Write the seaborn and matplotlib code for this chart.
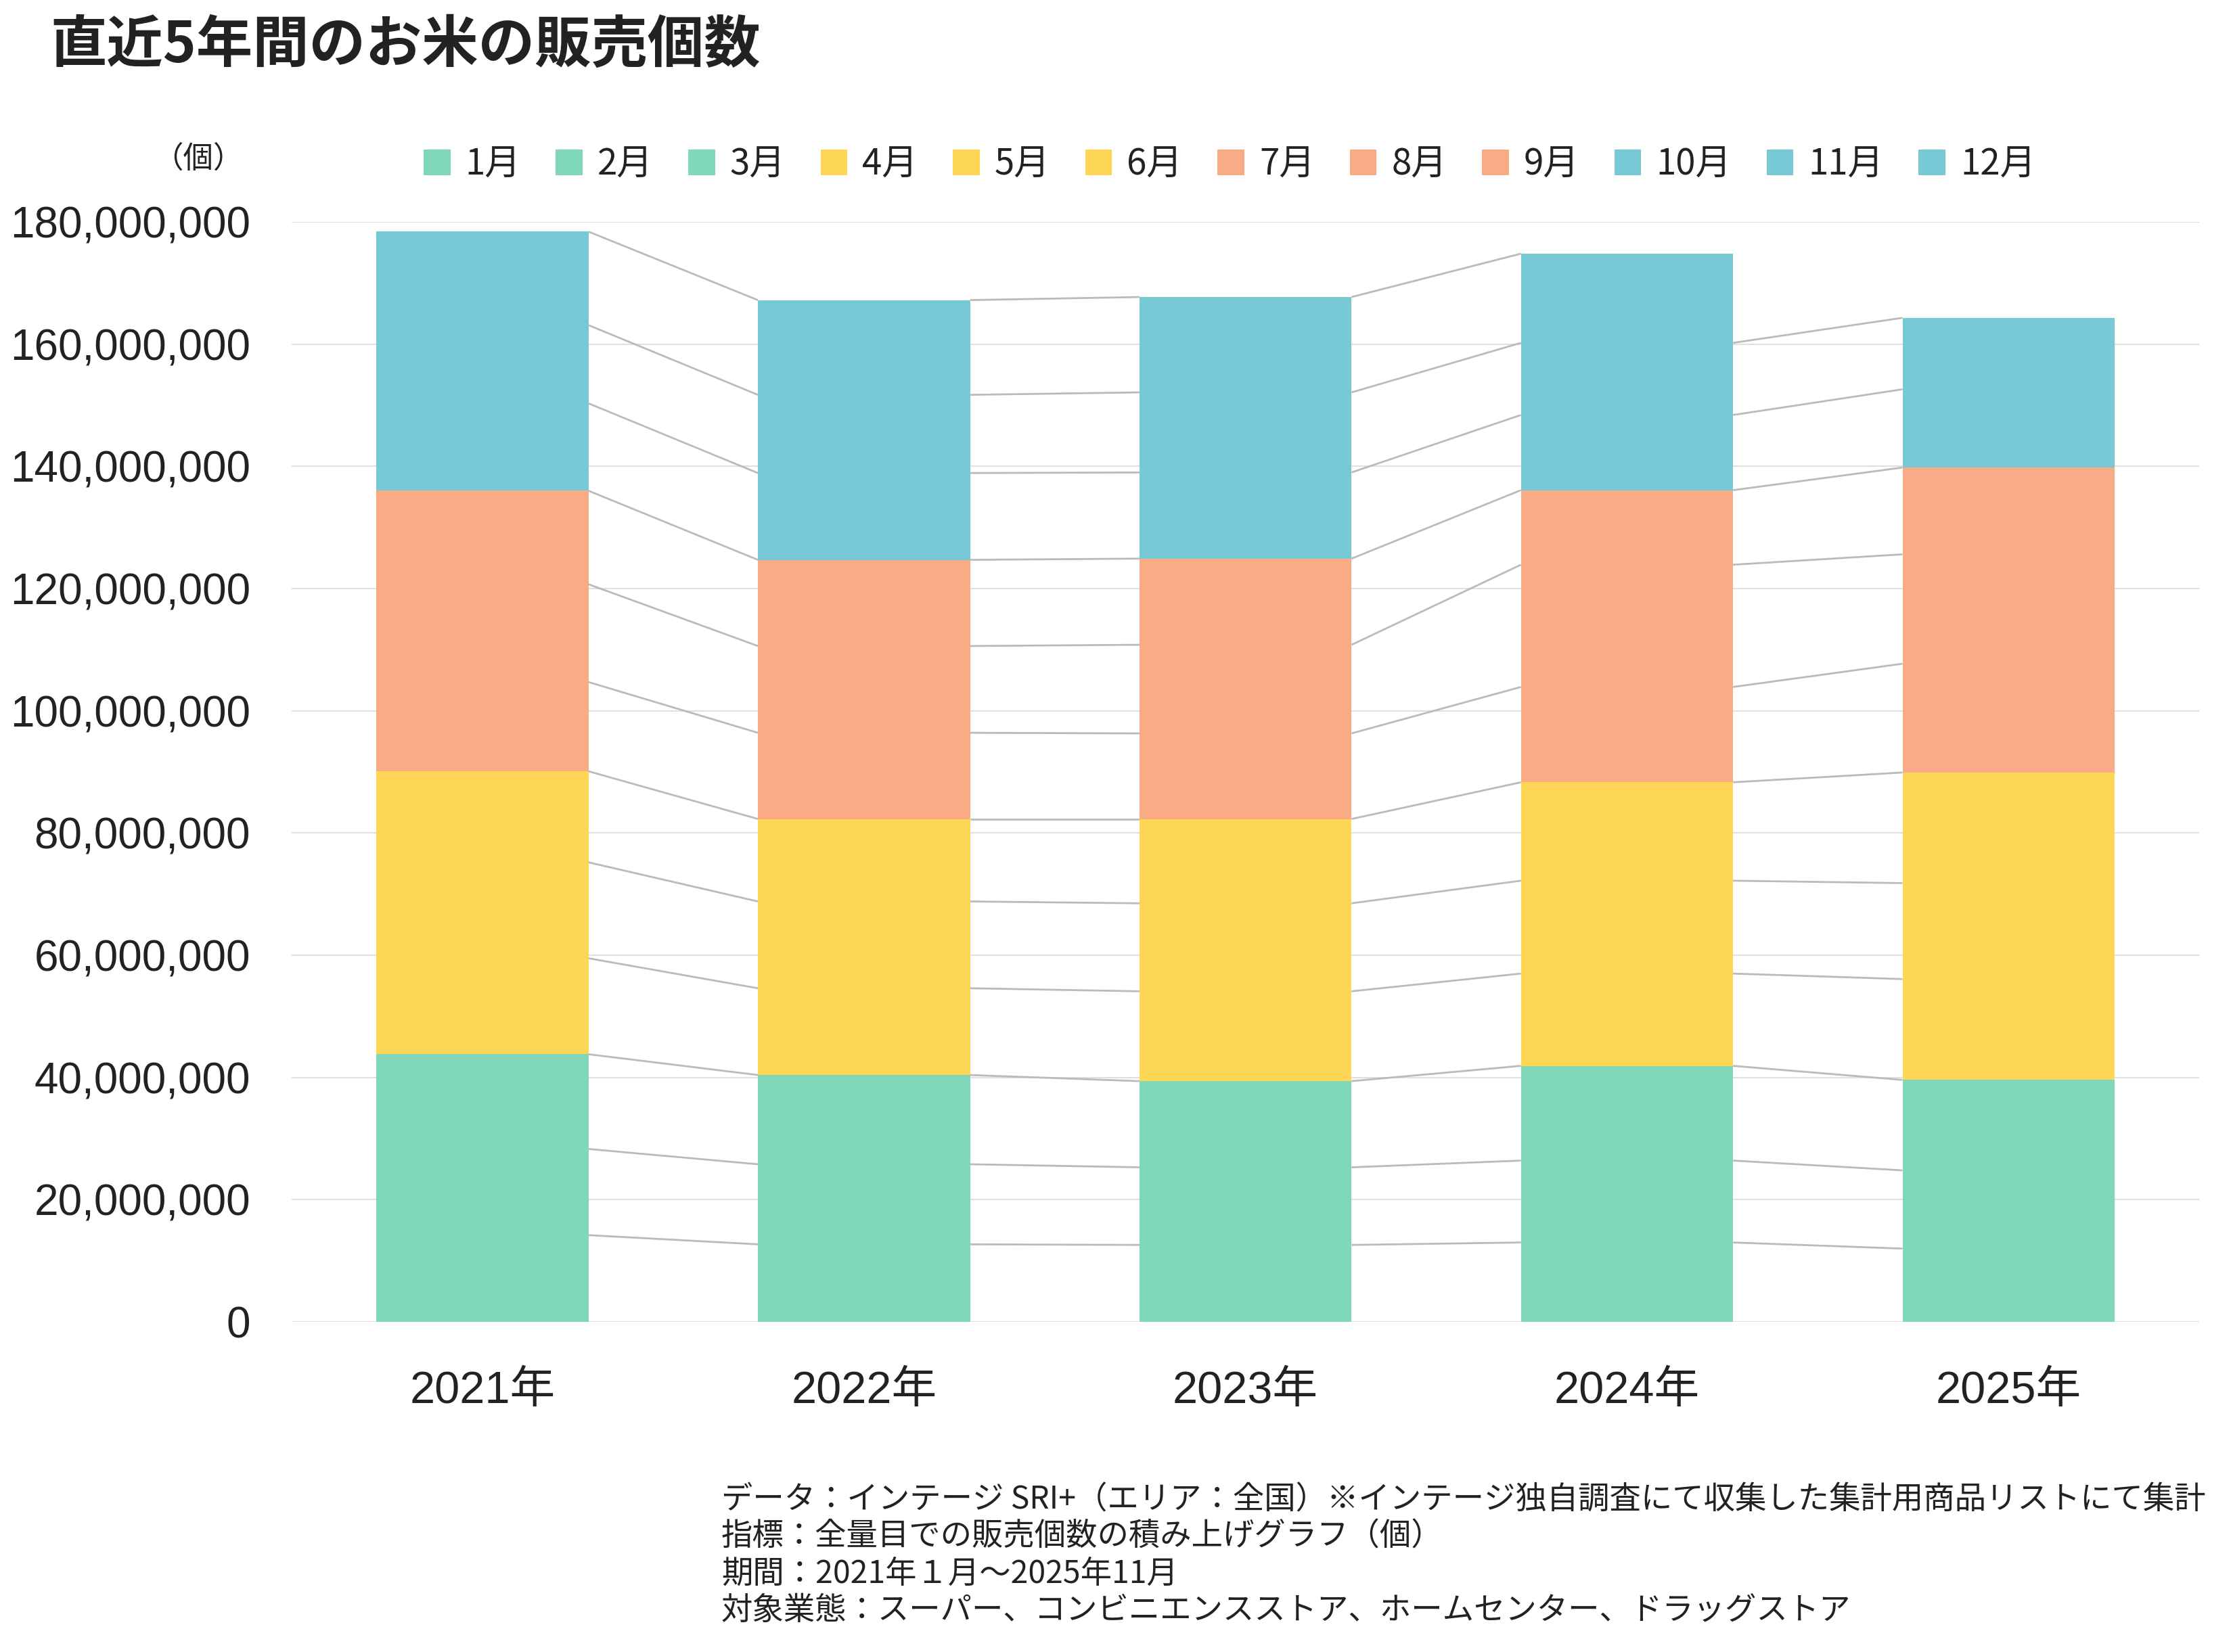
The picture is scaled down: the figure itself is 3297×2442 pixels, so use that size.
import numpy as np
import pandas as pd
import matplotlib
matplotlib.use("Agg")
import matplotlib.pyplot as plt
from matplotlib.patches import Patch
from matplotlib.ticker import FuncFormatter
import seaborn as sns

years = ["2021年", "2022年", "2023年", "2024年", "2025年"]
months = [f"{m}月" for m in range(1, 13)]

# monthly units sold (millions); 2025 ends in November
sales_2021 = [14.2, 14.1, 15.5, 15.7, 15.7, 14.9, 14.6, 16.0, 15.3, 14.3, 12.8, 15.3]
sales_2022 = [12.7, 13.1, 14.6, 14.2, 14.2, 13.5, 14.1, 14.2, 14.1, 14.2, 12.8, 15.5]
sales_2023 = [12.6, 12.7, 14.1, 14.7, 14.4, 13.8, 14.0, 14.5, 14.1, 14.1, 13.1, 15.6]
sales_2024 = [13.0, 13.4, 15.5, 15.1, 15.2, 16.1, 15.6, 20.0, 12.2, 12.3, 11.8, 14.6]
sales_2025 = [12.0, 12.8, 14.8, 16.5, 15.7, 18.1, 17.8, 17.9, 14.2, 12.8, 11.7, np.nan]

month_colors = ["#80d8b9"] * 3 + ["#fdd655"] * 3 + ["#f8ab85"] * 3 + ["#78c9d6"] * 3

footnote = [
    "データ：インテージ SRI+（エリア：全国）※インテージ独自調査にて収集した集計用商品リストにて集計",
    "指標：全量目での販売個数の積み上げグラフ（個）",
    "期間：2021年１月～2025年11月",
    "対象業態：スーパー、コンビニエンスストア、ホームセンター、ドラッグストア",
]

table = pd.DataFrame(
    [sales_2021, sales_2022, sales_2023, sales_2024, sales_2025],
    index=years, columns=months) * 1e6
cum = table.cumsum(axis=1)

sns.set_style("white")
plt.rcParams["font.family"] = ["Liberation Sans", "Noto Sans CJK JP", "DejaVu Sans"]
text_color = "#222222"
cjk = ["Noto Sans CJK JP", "DejaVu Sans"]

fig = plt.figure(figsize=(32.98, 24.42), dpi=100)
ax = fig.add_axes([0.1307, 0.1998, 0.8548, 0.6659])

bar_w = 0.556
bottom = np.zeros(len(years))
for m, col in zip(months, month_colors):
    vals = table[m].fillna(0).values
    sns.barplot(x=years, y=vals, bottom=bottom, color=col, saturation=1,
                width=bar_w, errorbar=None, linewidth=0, ax=ax, zorder=2)
    bottom = bottom + vals

# connector lines between the stacks
half = bar_w / 2
for m in months:
    c = cum[m].values
    for i in range(len(years) - 1):
        if np.isnan(c[i]) or np.isnan(c[i + 1]):
            continue
        ax.plot([i + half, i + 1 - half], [c[i], c[i + 1]],
                color="#bbbbbb", lw=2, zorder=3, solid_capstyle="butt")

ax.set_xlim(-0.5, len(years) - 0.5)
ax.set_ylim(0, 180e6)
ax.set_yticks(np.arange(0, 180e6 + 1, 20e6))
ax.yaxis.set_major_formatter(FuncFormatter(lambda v, p: f"{v:,.0f}"))
ax.set_axisbelow(True)
ax.yaxis.grid(True, color="#e0e0e0", lw=1.5)
ax.xaxis.grid(False)
for s in ax.spines.values():
    s.set_visible(False)
ax.tick_params(axis="y", length=0, pad=44, labelsize=46, labelcolor=text_color)
ax.tick_params(axis="x", length=0, pad=52, labelsize=48, labelcolor=text_color)
ax.set_xlabel("")
ax.set_ylabel("")

fig.text(0.0224, 0.9725, "直近5年間のお米の販売個数", fontsize=60, fontweight="bold",
         color=text_color, va="center", ha="left", family=cjk)
fig.text(0.0889, 0.9038, "（個）", fontsize=32, color=text_color, va="center", ha="center",
         family=cjk)

handles = [Patch(facecolor=c, edgecolor="none", label=m) for m, c in zip(months, month_colors)]
fig.legend(handles=handles, loc="center", bbox_to_anchor=(0.551, 0.9005), ncol=12,
           frameon=False, handlelength=0.75, handleheight=0.75,
           handletextpad=0.42, columnspacing=0.98, labelcolor=text_color,
           prop={"family": cjk, "size": 38})

for k, line in enumerate(footnote):
    fig.text(0.3232, 0.0922 - k * 0.0224, line, fontsize=33.4, color=text_color,
             va="center", ha="left", family=cjk)

fig.savefig("out.png", dpi=100, facecolor="white")
